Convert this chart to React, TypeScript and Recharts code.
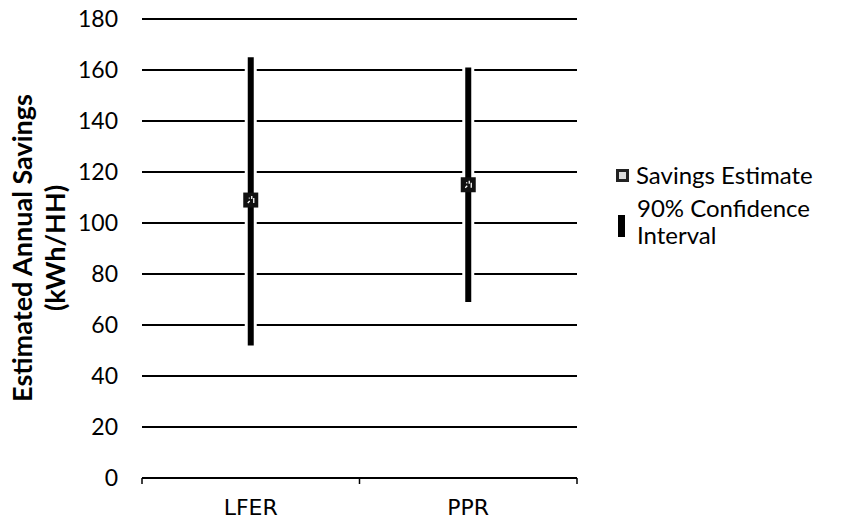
import React from 'react';
import { ComposedChart, Scatter, ErrorBar, XAxis, YAxis, CartesianGrid } from 'recharts';

const categories = ['LFER', 'PPR'];
const estimates = [109, 115];
const ciLow = [52, 69];
const ciHigh = [165, 161];
const yTicks = [0, 20, 40, 60, 80, 100, 120, 140, 160, 180];

const data = categories.map((name, i) => ({
    name,
    x: i + 0.5,
    y: estimates[i],
    err: [estimates[i] - ciLow[i], ciHigh[i] - estimates[i]],
}));

const TICK_FONT = 'Lato, "DejaVu Sans", sans-serif';

// square marker, dark with a few light specks like the scanned original
const Marker = (props: any) => {
    const { cx, cy } = props;
    if (cx == null || cy == null) return null;
    const s = 15;
    return (
        <g>
            <rect x={cx - s / 2} y={cy - s / 2} width={s} height={s} fill="#111" />
            <path
                d={`M${cx - 3} ${cy + 3} l2 -2 M${cx + 1} ${cy - 4} l0 3 M${cx + 3} ${cy - 2} l0 5 M${cx - 2} ${cy - 2} l1 0`}
                stroke="#fff"
                strokeWidth={1.3}
                fill="none"
            />
        </g>
    );
};

// number axis 0..2: integer ticks get a tick mark, half ticks get the category label
const XTick = (props: any) => {
    const { x, y, payload } = props;
    const v = payload.value as number;
    if (Number.isInteger(v)) {
        return <line x1={x} x2={x} y1={y - 8} y2={y - 2} stroke="#000" strokeWidth={1.5} />;
    }
    return (
        <text x={x} y={y + 29} textAnchor="middle" fontFamily='"DejaVu Sans", sans-serif' fontSize={22} fill="#000">
            {categories[Math.floor(v)]}
        </text>
    );
};

const YTitle = () => (
    <g transform="rotate(-90)">
        <text x={-240} y={24} textAnchor="middle" fontFamily={TICK_FONT} fontWeight="bold" fontSize={27} fill="#000">
            Estimated Annual Savings
        </text>
        <text x={-240} y={57} textAnchor="middle" fontFamily={TICK_FONT} fontWeight="bold" fontSize={27} fill="#000">
            (kWh/HH)
        </text>
    </g>
);

// legend drawn in chart coordinates on top of the chart
const LegendBox = () => (
    <svg width={835} height={517} style={{ position: 'absolute', left: 0, top: 0, pointerEvents: 'none' }}>
        <rect x={608} y={161} width={13} height={13} fill="#222" />
        <rect x={611} y={164} width={7} height={7} fill="#ddd" />
        <text x={628} y={176} fontFamily={TICK_FONT} fontSize={24} fill="#000">Savings Estimate</text>
        <rect x={610} y={207} width={7} height={22} fill="#000" />
        <text x={629} y={209} fontFamily={TICK_FONT} fontSize={24} fill="#000">90% Confidence</text>
        <text x={629} y={236} fontFamily={TICK_FONT} fontSize={24} fill="#000">Interval</text>
    </svg>
);

export default function App() {
    return (
        <div style={{ position: 'relative', width: 835, height: 517 }}>
            <ComposedChart width={835} height={517} data={data} margin={{ top: 11, right: 266, bottom: 0, left: 0 }}>
                <CartesianGrid vertical={false} stroke="#000" strokeWidth={2} />
                <XAxis
                    type="number"
                    dataKey="x"
                    domain={[0, 2]}
                    ticks={[0, 0.5, 1, 1.5, 2]}
                    axisLine={false}
                    tickLine={false}
                    tick={<XTick />}
                    height={47}
                    interval={0}
                />
                <YAxis
                    type="number"
                    dataKey="y"
                    domain={[0, 180]}
                    ticks={yTicks}
                    width={134}
                    axisLine={false}
                    tickLine={false}
                    tickSize={0}
                    tickMargin={24}
                    interval={0}
                    tick={{ fontFamily: TICK_FONT, fontSize: 23, fill: '#000' }}
                    label={{ content: () => <YTitle /> }}
                />
                <Scatter data={data} dataKey="y" shape={<Marker />} isAnimationActive={false}>
                    <ErrorBar dataKey="err" direction="y" width={0} stroke="#fff" strokeWidth={12} />
                    <ErrorBar dataKey="err" direction="y" width={0} stroke="#000" strokeWidth={6} />
                </Scatter>
            </ComposedChart>
            <LegendBox />
        </div>
    );
}
